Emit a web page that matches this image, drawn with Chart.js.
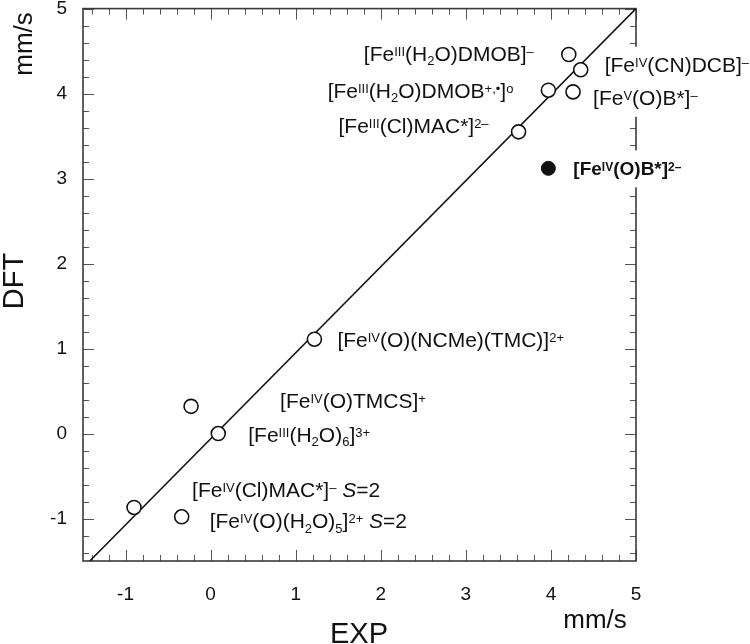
<!DOCTYPE html>
<html>
<head>
<meta charset="utf-8">
<script src="https://cdn.jsdelivr.net/npm/chart.js@4/dist/chart.umd.min.js"></script>
<style>
  body { margin: 0; background: #fff; }
  canvas { display: block; }
</style>
</head>
<body>
<canvas id="c" width="750" height="644"></canvas>
<script>
// experimental vs computed isomer shifts (mm/s)
const expOpen = [4.21, 4.35, 3.97, 4.26, 3.62, 1.22, -0.23, 0.09, -0.90, -0.34];
const dftOpen = [4.46, 4.28, 4.04, 4.02, 3.55, 1.11, 0.32, 0.00, -0.87, -0.98];
const openLabels = [
  '[Fe^{III}(H_{2}O)DMOB]^{–}',
  '[Fe^{IV}(CN)DCB]^{–}',
  '[Fe^{III}(H_{2}O)DMOB^{+,•}]^{o}',
  '[Fe^{V}(O)B*]^{–}',
  '[Fe^{III}(Cl)MAC*]^{2–}',
  '[Fe^{IV}(O)(NCMe)(TMC)]^{2+}',
  '[Fe^{IV}(O)TMCS]^{+}',
  '[Fe^{III}(H_{2}O)_{6}]^{3+}',
  '[Fe^{IV}(Cl)MAC*]^{–} /{S}=2',
  '[Fe^{IV}(O)(H_{2}O)_{5}]^{2+} /{S}=2'
];
const expFilled = [3.97];
const dftFilled = [3.12];
const filledLabels = ['[Fe^{IV}(O)B*]^{2–}'];

const fitX = [-1.42, 5];
const fitY = [-1.5, 5];

const axisTicks = [-1, 0, 1, 2, 3, 4, 5];

// label placement relative to its point (px)
const openLabelPos = [
  { dx: -35, dy: -1, align: 'right' },
  { dx: 24, dy: -5, align: 'left' },
  { dx: -35, dy: 0, align: 'right' },
  { dx: 20, dy: 6, align: 'left' },
  { dx: -30, dy: -6, align: 'right' },
  { dx: 23, dy: 0, align: 'left' },
  { dx: 89, dy: -6, align: 'left' },
  { dx: 30, dy: 1, align: 'left' },
  { dx: 58, dy: -18, align: 'left' },
  { dx: 28, dy: 4, align: 'left' }
];
const filledLabelPos = [{ dx: 25, dy: 0, align: 'left' }];

const FONT = '"Liberation Sans", Arial, Helvetica, sans-serif';
const LABEL_SIZE = 21;
const BOLD_SIZE = 19;

function parseRuns(str) {
  const runs = [];
  const re = /([\^_\/])\{([^}]*)\}/g;
  let last = 0, m;
  while ((m = re.exec(str)) !== null) {
    if (m.index > last) runs.push({ t: str.slice(last, m.index), k: 'n' });
    runs.push({ t: m[2], k: m[1] === '^' ? 'sup' : m[1] === '_' ? 'sub' : 'it' });
    last = re.lastIndex;
  }
  if (last < str.length) runs.push({ t: str.slice(last), k: 'n' });
  return runs;
}

function runFont(k, size, bold) {
  const w = bold ? 'bold ' : '';
  if (k === 'sup' || k === 'sub') return w + Math.round(size * 0.62) + 'px ' + FONT;
  if (k === 'it') return 'italic ' + w + size + 'px ' + FONT;
  return w + size + 'px ' + FONT;
}

function layoutRich(ctx, str, x, align, size, bold) {
  const runs = parseRuns(str);
  let total = 0;
  runs.forEach(r => { ctx.font = runFont(r.k, size, bold); r.w = ctx.measureText(r.t).width; total += r.w; });
  return { runs, left: align === 'right' ? x - total : x, width: total };
}

function drawRich(ctx, str, x, cy, align, size, bold) {
  const lay = layoutRich(ctx, str, x, align, size, bold);
  let px = lay.left;
  const base = cy + size * 0.716 / 2;
  ctx.textBaseline = 'alphabetic';
  ctx.textAlign = 'left';
  lay.runs.forEach(r => {
    ctx.font = runFont(r.k, size, bold);
    let by = base;
    if (r.k === 'sup') by = base - size * 0.24;
    if (r.k === 'sub') by = base + size * 0.2;
    ctx.fillText(r.t, px, by);
    px += r.w;
  });
}

function eachLabel(chart, fn) {
  const x = chart.scales.x, y = chart.scales.y;
  expOpen.forEach((v, i) => {
    const p = openLabelPos[i];
    fn(openLabels[i], x.getPixelForValue(v) + p.dx, y.getPixelForValue(dftOpen[i]) + p.dy, p.align, LABEL_SIZE, false);
  });
  expFilled.forEach((v, i) => {
    const p = filledLabelPos[i];
    fn(filledLabels[i], x.getPixelForValue(v) + p.dx, y.getPixelForValue(dftFilled[i]) + p.dy, p.align, BOLD_SIZE, true);
  });
}

const framePlugin = {
  id: 'frame',
  beforeDatasetsDraw(chart) {
    const { ctx, chartArea: a } = chart;
    const x = chart.scales.x, y = chart.scales.y;
    ctx.save();
    ctx.strokeStyle = '#555';
    ctx.lineWidth = 1;
    ctx.beginPath();
    for (let k = -7; k <= 25; k++) {
      const v = k / 5;
      const len = k % 5 === 0 ? 11 : 6;
      const xp = Math.round(x.getPixelForValue(v)) + 0.5;
      const yp = Math.round(y.getPixelForValue(v)) + 0.5;
      ctx.moveTo(xp, a.bottom); ctx.lineTo(xp, a.bottom - len);
      ctx.moveTo(xp, a.top); ctx.lineTo(xp, a.top + len);
      ctx.moveTo(a.left, yp); ctx.lineTo(a.left + len, yp);
      ctx.moveTo(a.right, yp); ctx.lineTo(a.right - len, yp);
    }
    ctx.stroke();
    ctx.strokeStyle = '#3a3a3a';
    ctx.lineWidth = 1.6;
    ctx.strokeRect(a.left, a.top, a.right - a.left, a.bottom - a.top);

    // white boxes behind labels hide the frame where text crosses it
    ctx.fillStyle = '#fff';
    eachLabel(chart, (str, lx, cy, align, size, bold) => {
      const lay = layoutRich(ctx, str, lx, align, size, bold);
      ctx.fillRect(lay.left - 3, cy - 18, lay.width + 6, 37);
    });
    ctx.restore();
  },
  afterDraw(chart) {
    const { ctx } = chart;
    ctx.save();
    ctx.fillStyle = '#111';
    eachLabel(chart, (str, lx, cy, align, size, bold) => drawRich(ctx, str, lx, cy, align, size, bold));

    // axis titles
    ctx.textAlign = 'center';
    ctx.textBaseline = 'alphabetic';
    ctx.font = '29px ' + FONT;
    ctx.fillText('EXP', 359, 643);
    ctx.font = '26px ' + FONT;
    ctx.fillText('mm/s', 595, 628);

    ctx.save();
    ctx.translate(23, 281);
    ctx.rotate(-Math.PI / 2);
    ctx.font = '29px ' + FONT;
    ctx.fillText('DFT', 0, 0);
    ctx.restore();

    ctx.save();
    ctx.translate(32, 44);
    ctx.rotate(-Math.PI / 2);
    ctx.font = '26px ' + FONT;
    ctx.fillText('mm/s', 0, 0);
    ctx.restore();
    ctx.restore();
  }
};

const toPoints = (xs, ys) => xs.map((v, i) => ({ x: v, y: ys[i] }));

new Chart(document.getElementById('c').getContext('2d'), {
  type: 'scatter',
  data: {
    datasets: [
      {
        data: toPoints(expOpen, dftOpen),
        pointRadius: 7,
        pointBorderWidth: 1.6,
        pointBorderColor: '#111',
        pointBackgroundColor: '#fff',
        order: 1
      },
      {
        data: toPoints(expFilled, dftFilled),
        pointRadius: 7,
        pointBorderWidth: 1,
        pointBorderColor: '#111',
        pointBackgroundColor: '#111',
        order: 1
      },
      {
        data: toPoints(fitX, fitY),
        showLine: true,
        borderColor: '#111',
        borderWidth: 1.5,
        pointRadius: 0,
        order: 3
      }
    ]
  },
  options: {
    responsive: false,
    animation: false,
    devicePixelRatio: 1,
    layout: { padding: { top: 5, right: 114, left: 0, bottom: 0 } },
    plugins: { legend: { display: false }, tooltip: { enabled: false } },
    scales: {
      x: {
        type: 'linear', min: -1.5, max: 5,
        grid: { display: false, drawTicks: false },
        border: { display: false },
        afterBuildTicks: s => { s.ticks = axisTicks.map(v => ({ value: v })); },
        afterFit: s => { s.height = 83; s.paddingLeft = 0; s.paddingRight = 0; },
        ticks: { padding: 22, color: '#111', font: { family: FONT, size: 19 } }
      },
      y: {
        type: 'linear', min: -1.5, max: 5,
        grid: { display: false, drawTicks: false },
        border: { display: false },
        afterBuildTicks: s => { s.ticks = axisTicks.map(v => ({ value: v })); },
        afterFit: s => { s.width = 83; s.paddingTop = 0; s.paddingBottom = 0; },
        ticks: { padding: 16, color: '#111', font: { family: FONT, size: 19 } }
      }
    }
  },
  plugins: [framePlugin]
});
</script>
</body>
</html>
